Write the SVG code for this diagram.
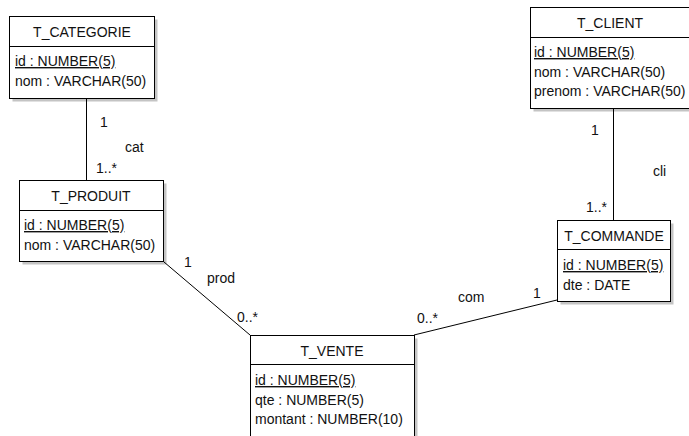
<svg xmlns="http://www.w3.org/2000/svg" width="689" height="436" viewBox="0 0 689 436">
<style>
text{font-family:"Liberation Sans",Arial,sans-serif;font-size:14px;fill:#111}
.t{text-anchor:middle}
.u{text-decoration:underline}
.box{fill:#fff;stroke:#000;stroke-width:1}
.sh{fill:#c4c4c4}
.div{stroke:#000;stroke-width:1}
.ln{stroke:#000;stroke-width:1;fill:none}
</style>
<rect width="689" height="436" fill="#fff"/>
<g id="T_CATEGORIE">
<rect class="sh" x="12.5" y="19.5" width="145" height="82"/>
<rect class="box" x="9.5" y="16.5" width="145" height="82"/>
<line class="div" x1="9.5" y1="46.5" x2="154.5" y2="46.5"/>
<text class="t" x="82" y="37">T_CATEGORIE</text>
<text class="u" x="15" y="66">id : NUMBER(5)</text>
<text x="15" y="85.5">nom : VARCHAR(50)</text>
</g>
<g id="T_CLIENT">
<rect class="sh" x="533.5" y="10.5" width="160" height="101"/>
<rect class="box" x="530.5" y="7.5" width="160" height="101"/>
<line class="div" x1="530.5" y1="37.5" x2="690" y2="37.5"/>
<text class="t" x="610" y="28">T_CLIENT</text>
<text class="u" x="534" y="57">id : NUMBER(5)</text>
<text x="534" y="76.5">nom : VARCHAR(50)</text>
<text x="534" y="96">prenom : VARCHAR(50)</text>
</g>
<g id="T_PRODUIT">
<rect class="sh" x="22.5" y="183.5" width="144" height="81"/>
<rect class="box" x="19.5" y="180.5" width="144" height="81"/>
<line class="div" x1="19.5" y1="210.5" x2="163.5" y2="210.5"/>
<text class="t" x="91" y="201">T_PRODUIT</text>
<text class="u" x="24" y="230">id : NUMBER(5)</text>
<text x="24" y="249.5">nom : VARCHAR(50)</text>
</g>
<g id="T_COMMANDE">
<rect class="sh" x="560.5" y="223.5" width="113" height="81"/>
<rect class="box" x="557.5" y="220.5" width="113" height="81"/>
<line class="div" x1="557.5" y1="249.5" x2="670.5" y2="249.5"/>
<text class="t" x="614" y="241">T_COMMANDE</text>
<text class="u" x="563" y="270">id : NUMBER(5)</text>
<text x="563" y="289.5">dte : DATE</text>
</g>
<g id="T_VENTE">
<rect class="sh" x="253.5" y="338.5" width="164" height="110"/>
<rect class="box" x="250.5" y="335.5" width="164" height="110"/>
<line class="div" x1="250.5" y1="364.5" x2="414.5" y2="364.5"/>
<text class="t" x="332" y="356">T_VENTE</text>
<text class="u" x="255" y="385">id : NUMBER(5)</text>
<text x="255" y="404.5">qte : NUMBER(5)</text>
<text x="255" y="424">montant : NUMBER(10)</text>
</g>
<g id="connectors">
<line class="ln" x1="86.5" y1="99" x2="86.5" y2="180"/>
<line class="ln" x1="613.5" y1="109" x2="613.5" y2="220"/>
<line class="ln" x1="164" y1="262" x2="250" y2="335"/>
<line class="ln" x1="414" y1="335" x2="557" y2="300"/>
<text x="100" y="127">1</text>
<text x="125" y="152">cat</text>
<text x="96" y="173">1..*</text>
<text x="591" y="135">1</text>
<text x="653" y="176">cli</text>
<text x="586" y="212">1..*</text>
<text x="184" y="267">1</text>
<text x="207" y="283">prod</text>
<text x="237" y="322">0..*</text>
<text x="458" y="302">com</text>
<text x="533" y="298">1</text>
<text x="417" y="323">0..*</text>
</g>
</svg>
